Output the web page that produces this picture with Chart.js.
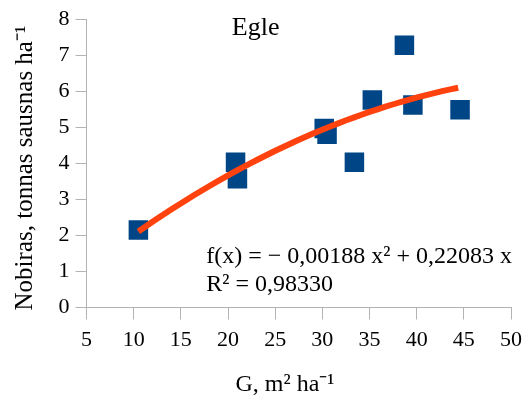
<!DOCTYPE html>
<html lang="lt">
<head>
    <meta charset="UTF-8">
    <title>Egle</title>
    <script src="https://cdn.jsdelivr.net/npm/chart.js"></script>
    <style>
        html, body { margin: 0; padding: 0; background: #fff; }
        .chart-container { position: relative; width: 530px; height: 405px; }
    </style>
</head>
<body>
    <div class="chart-container">
        <canvas id="egleChart"></canvas>
    </div>

    <script>
        // Data
        const gValues = [10.5, 20.8, 21.0, 30.2, 30.5, 33.4, 35.3, 38.7, 39.6, 44.6];
        const yieldValues = [2.15, 4.03, 3.57, 4.97, 4.81, 4.03, 5.76, 7.28, 5.62, 5.49];
        // polynomial trend line shown on the chart: f(x) = a x^2 + b x
        const trendCoefs = [-0.00188, 0.22083];
        const trendRange = [10.5, 44.4];
        const xTicks = [5, 10, 15, 20, 25, 30, 35, 40, 45, 50];
        const yTicks = [0, 1, 2, 3, 4, 5, 6, 7, 8];

        const chartTitle = 'Egle';
        const eqLines = ['f(x) = \u2212 0,00188 x\u00b2 + 0,22083 x', 'R\u00b2 = 0,98330'];
        const xTitle = 'G, m\u00b2 ha\u207b\u00b9';
        const yTitle = 'Nobiras, tonnas sausnas ha\u207b\u00b9';

        const serif = "'Liberation Serif', 'Times New Roman', serif";
        const axisGrey = '#b3b3b3';

        const trendPoints = [];
        for (let i = 0; i <= 40; i++) {
            const x = trendRange[0] + (trendRange[1] - trendRange[0]) * i / 40;
            trendPoints.push({ x: x, y: trendCoefs[0] * x * x + trendCoefs[1] * x });
        }

        // text labels (title, equation, axis titles)
        const textPlugin = {
            id: 'textLabels',
            afterDraw(chart) {
                const ctx = chart.ctx;
                const xs = chart.scales.x, ys = chart.scales.y;
                ctx.save();
                ctx.fillStyle = '#000';
                ctx.textBaseline = 'alphabetic';

                ctx.font = '26px ' + serif;
                ctx.textAlign = 'left';
                ctx.fillText(chartTitle, xs.getPixelForValue(20.4), ys.getPixelForValue(7.55));

                ctx.font = '24px ' + serif;
                ctx.fillText(eqLines[0], xs.getPixelForValue(17.7), ys.getPixelForValue(1.24));
                ctx.fillText(eqLines[1], xs.getPixelForValue(17.7), ys.getPixelForValue(0.46));

                ctx.font = '24px ' + serif;
                ctx.textAlign = 'center';
                ctx.fillText(xTitle, 285, 391);

                ctx.font = '25px ' + serif;
                ctx.translate(32, 168);
                ctx.rotate(-Math.PI / 2);
                ctx.fillText(yTitle, 0, 0);
                ctx.restore();
            }
        };

        const ctx = document.getElementById('egleChart').getContext('2d');
        const egleChart = new Chart(ctx, {
            type: 'scatter',
            data: {
                datasets: [{
                    label: 'trend',
                    data: trendPoints,
                    showLine: true,
                    borderColor: '#ff420e',
                    borderWidth: 6,
                    pointRadius: 0,
                    fill: false
                }, {
                    label: 'Egle',
                    data: gValues.map((g, i) => ({ x: g, y: yieldValues[i] })),
                    pointStyle: 'rect',
                    pointRadius: 13.8,
                    pointHoverRadius: 13.8,
                    backgroundColor: '#004586',
                    borderColor: '#004586',
                    borderWidth: 0
                }]
            },
            options: {
                responsive: true,
                maintainAspectRatio: false,
                animation: false,
                events: [],
                layout: { padding: { left: 0, right: 18.5, top: 18.5, bottom: 0 } },
                plugins: {
                    legend: { display: false },
                    tooltip: { enabled: false }
                },
                scales: {
                    x: {
                        type: 'linear',
                        min: 5,
                        max: 50,
                        afterBuildTicks: axis => { axis.ticks = xTicks.map(v => ({ value: v })); },
                        afterFit: axis => { axis.height = 97.5; },
                        grid: { drawOnChartArea: false, color: axisGrey, tickLength: 12 },
                        border: { color: axisGrey },
                        ticks: { color: '#000', padding: 8, maxRotation: 0, font: { family: serif, size: 22 } }
                    },
                    y: {
                        type: 'linear',
                        min: 0,
                        max: 8,
                        afterBuildTicks: axis => { axis.ticks = yTicks.map(v => ({ value: v })); },
                        afterFit: axis => { axis.width = 86.5; },
                        grid: { drawOnChartArea: false, color: axisGrey, tickLength: 11 },
                        border: { color: axisGrey },
                        ticks: { color: '#000', padding: 6, font: { family: serif, size: 22 } }
                    }
                }
            },
            plugins: [textPlugin]
        });
    </script>
</body>
</html>
